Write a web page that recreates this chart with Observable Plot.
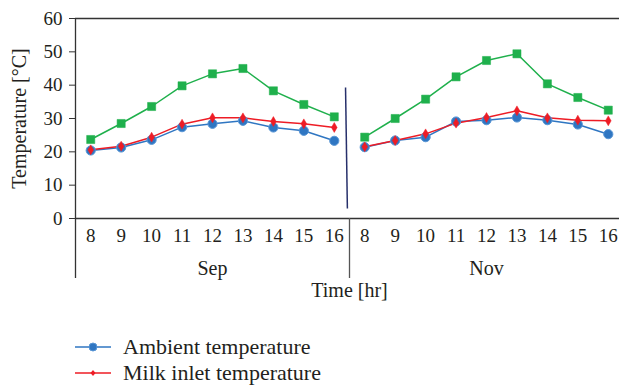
<!DOCTYPE html>
<html>
<head>
<meta charset="utf-8">
<script src="https://cdn.jsdelivr.net/npm/d3@7"></script>
<script src="https://cdn.jsdelivr.net/npm/@observablehq/plot@0.6"></script>
<style>
  html, body { margin: 0; padding: 0; background: #fff; }
  body { width: 619px; height: 385px; overflow: hidden; font-family: "Liberation Serif", serif; color: #231f20; }
  #legend { position: relative; margin-top: 29px; }
  .item { display: flex; align-items: center; height: 26px; margin-left: 75px; font-size: 22px; }
  .item svg { width: 36px; height: 14px; margin-right: 12px; }
</style>
</head>
<body>
<div id="chart"></div>
<div id="legend"></div>
<script>
const hours = [8, 9, 10, 11, 12, 13, 14, 15, 16];
const months = ["Sep", "Nov"];
const seriesNames = ["Ambient temperature", "Milk inlet temperature", "Milk outlet temperature"];
const yTicks = [0, 10, 20, 30, 40, 50, 60];

// Sep values (hours 8..16)
const ambientSep = [20.4, 21.3, 23.6, 27.4, 28.4, 29.3, 27.3, 26.3, 23.3];
const inletSep   = [20.6, 21.7, 24.4, 28.3, 30.2, 30.2, 29.1, 28.4, 27.3];
const outletSep  = [23.7, 28.5, 33.6, 39.8, 43.4, 45.0, 38.3, 34.2, 30.5];
// Nov values (hours 8..16)
const ambientNov = [21.4, 23.4, 24.4, 29.1, 29.5, 30.3, 29.5, 28.2, 25.3];
const inletNov   = [21.5, 23.4, 25.4, 28.6, 30.3, 32.3, 30.2, 29.5, 29.3];
const outletNov  = [24.4, 30.0, 35.8, 42.5, 47.4, 49.4, 40.4, 36.3, 32.5];

const separator = [{x1: 8.37, x2: 8.43, y1: 39.3, y2: 3}];

const colors = ["#2f76c2", "#ee1c25", "#1fb04c"];
const symbols = ["circle", "diamond", "square"];

const bySeries = [[ambientSep, ambientNov], [inletSep, inletNov], [outletSep, outletNov]];
const data = [];
bySeries.forEach((pair, s) => {
  pair.forEach((vals, m) => {
    vals.forEach((v, h) => data.push({series: seriesNames[s], month: months[m], i: m * hours.length + h, v}));
  });
});
const idx = d3.range(months.length * hours.length);

const marks = [];
seriesNames.forEach((name, s) => {
  const sub = data.filter(d => d.series === name);
  marks.push(Plot.line(sub, {x: "i", y: "v", z: "month", stroke: colors[s], strokeWidth: 1.5}));
});
seriesNames.forEach((name, s) => {
  const sub = data.filter(d => d.series === name);
  marks.push(Plot.dot(sub, {x: "i", y: "v", symbol: () => symbols[s], r: s === 1 ? 3 : 4.6,
    fill: colors[s], stroke: s === 0 ? "#5a97d6" : colors[s], strokeWidth: s === 0 ? 1 : 0.5}));
});

const chart = Plot.plot({
  width: 619,
  height: 305,
  marginLeft: 75,
  marginRight: -4,
  marginTop: 18,
  marginBottom: 87,
  style: {fontFamily: "Liberation Serif, serif", color: "#231f20", background: "#fff"},
  x: {type: "linear", domain: [-0.5, 17.5], label: null},
  y: {domain: [0, 60], label: null},
  symbol: {type: "identity"},
  marks: [
    Plot.ruleY([60], {stroke: "#333", strokeWidth: 1.3}),
    Plot.ruleY([0], {stroke: "#333", strokeWidth: 1.3}),
    Plot.ruleX([-0.5], {stroke: "#333", strokeWidth: 1.3, insetBottom: -60}),
    Plot.ruleX([8.5], {y1: 0, y2: 0, stroke: "#555", strokeWidth: 1.3, insetBottom: -60}),
    Plot.link(separator, {x1: "x1", x2: "x2", y1: "y1", y2: "y2", stroke: "#27306b", strokeWidth: 1.5}),
    Plot.axisY(yTicks, {tickSize: 6, tickPadding: 7, fontSize: 19, label: null, stroke: "#333"}),
    Plot.axisX(idx, {tickSize: 0, tickPadding: 10, fontSize: 19, label: null, tickFormat: i => String(hours[i % hours.length])}),
    Plot.axisX([4, 13], {tickSize: 0, tickPadding: 42, fontSize: 20, label: null, tickFormat: i => months[Math.floor(i / hours.length)]}),
    Plot.text(["Time [hr]"], {text: d => d, frameAnchor: "bottom", dy: 72, fontSize: 20, lineAnchor: "middle", textAnchor: "middle"}),
    Plot.text(["Temperature [°C]"], {text: d => d, frameAnchor: "left", rotate: -90, dx: -56, fontSize: 20, lineAnchor: "middle", textAnchor: "middle"}),
    ...marks
  ]
});
document.getElementById("chart").appendChild(chart);

const legend = document.getElementById("legend");
seriesNames.slice(0, 2).forEach((name, s) => {
  const div = document.createElement("div");
  div.className = "item";
  const marker = s === 0
    ? `<circle cx="18" cy="7" r="4" fill="${colors[s]}" stroke="#5a97d6"/>`
    : `<path d="M18 4 L20.5 7 L18 10 L15.5 7 Z" fill="${colors[s]}"/>`;
  div.innerHTML = `<svg viewBox="0 0 36 14"><line x1="0" x2="36" y1="7" y2="7" stroke="${colors[s]}" stroke-width="1.5"/>${marker}</svg><span>${name}</span>`;
  legend.appendChild(div);
});
</script>
</body>
</html>
